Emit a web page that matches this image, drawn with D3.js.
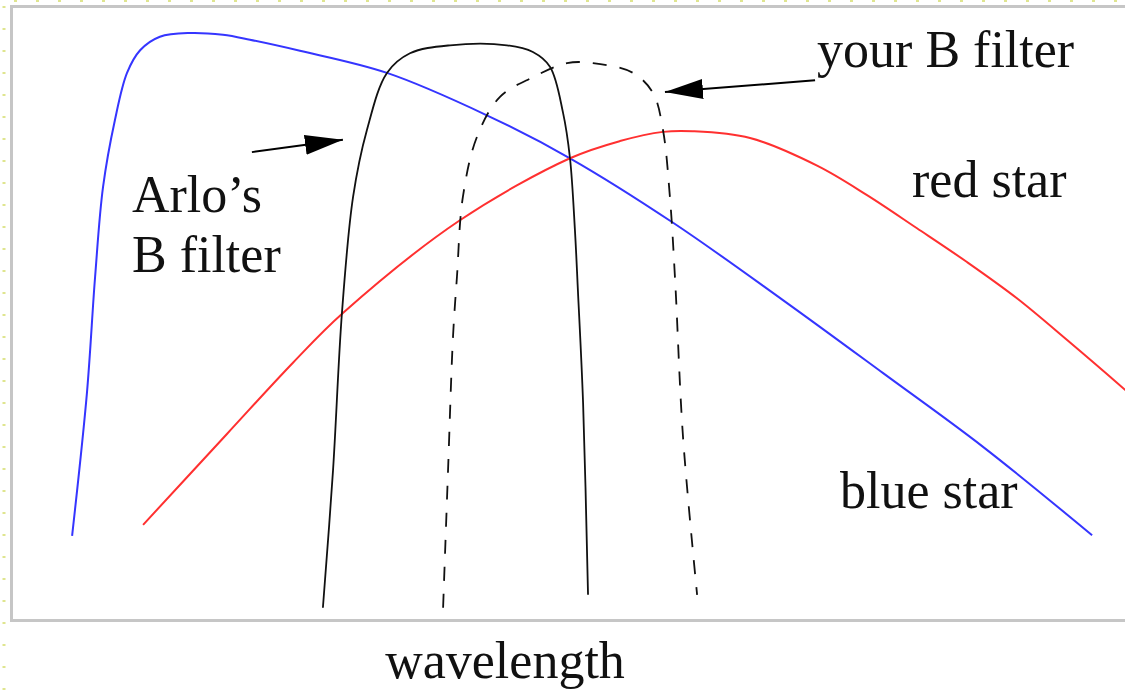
<!DOCTYPE html>
<html>
<head>
<meta charset="utf-8">
<script src="https://cdn.jsdelivr.net/npm/d3@7"></script>
<style>
  body { margin: 0; background: #fff; }
  svg { display: block; }
  .label { font-family: 'Liberation Serif', 'Times New Roman', serif; font-size: 52px; fill: #111; }
</style>
</head>
<body>
<svg id="chart" width="1125" height="690"></svg>
<script>
// wavelength (arbitrary nm) vs relative flux
const blueStar = [
  [324.3, 0.137], [330.3, 0.370], [333.6, 0.559], [336.8, 0.705], [341.6, 0.814],
  [346.5, 0.891], [351.8, 0.928], [359.8, 0.950], [372.0, 0.956], [385.3, 0.953],
  [396.2, 0.945], [416.4, 0.927], [451.6, 0.891], [492.0, 0.822], [525.6, 0.752],
  [567.3, 0.647], [611.7, 0.521], [652.2, 0.402], [692.6, 0.282], [736.7, 0.138]
];
const redStar = [
  [353.0, 0.155], [386.9, 0.303], [413.6, 0.419], [433.8, 0.500],
  [481.1, 0.651], [525.6, 0.752], [545.8, 0.780], [563.2, 0.795], [575.3, 0.796],
  [598.4, 0.785], [625.5, 0.740], [645.7, 0.692], [665.9, 0.638], [686.1, 0.583],
  [706.3, 0.524], [726.6, 0.456], [750.0, 0.375], [760.1, 0.339]
];
const arloFilter = [
  [425.7, 0.020], [429.8, 0.244], [433.4, 0.500], [437.9, 0.689], [443.5, 0.798],
  [451.6, 0.891], [460.9, 0.923], [477.1, 0.936], [500.1, 0.936], [510.6, 0.925],
  [517.5, 0.901], [522.8, 0.826], [525.6, 0.752], [527.6, 0.635], [528.8, 0.537],
  [530.9, 0.353], [532.9, 0.041]
];
const yourFilter = [
  [474.3, 0.020], [476.3, 0.244], [478.3, 0.461], [479.9, 0.559], [482.3, 0.689],
  [488.0, 0.787], [497.3, 0.852], [510.6, 0.884], [524.4, 0.907], [534.9, 0.907],
  [551.1, 0.891], [559.2, 0.858], [563.2, 0.798], [566.0, 0.689], [568.1, 0.554],
  [571.3, 0.298], [577.0, 0.041]
];

// annotation arrows: [from, to]
const arloArrow = [[397.0, 0.762], [433.8, 0.782]];
const yourArrow = [[624.7, 0.879], [564.0, 0.860]];

const labels = [
  {text: 'your B filter', x: 625.5, y: 0.901},
  {text: 'red star', x: 663.9, y: 0.689},
  {text: 'blue star', x: 634.8, y: 0.182},
  {text: 'Arlo\u2019s', x: 348.5, y: 0.664},
  {text: 'B filter', x: 348.5, y: 0.567}
];
const xTitle = 'wavelength';

const svg = d3.select('svg#chart');
const frame = {left: 12, right: 1125, top: 6, bottom: 620};

const x = d3.scaleLinear().domain([300, 750]).range([frame.left, frame.right]);
const y = d3.scaleLinear().domain([0, 1]).range([frame.bottom, frame.top]);

// pale dotted guide along the page edges
svg.append('line')
  .attr('x1', 4).attr('x2', 4).attr('y1', 6).attr('y2', 690)
  .attr('stroke', '#dfe58f').attr('stroke-width', 3)
  .attr('stroke-dasharray', '2,20');
svg.append('line')
  .attr('x1', 14).attr('x2', 1125).attr('y1', 1).attr('y2', 1)
  .attr('stroke', '#dfe58f').attr('stroke-width', 2)
  .attr('stroke-dasharray', '3,19');

svg.append('rect')
  .attr('x', frame.left - 0.5).attr('y', frame.top + 0.5)
  .attr('width', 1200).attr('height', frame.bottom - frame.top)
  .attr('fill', '#fff')
  .attr('stroke', '#c6c6c6').attr('stroke-width', 3);

svg.append('defs').append('clipPath').attr('id', 'plot')
  .append('rect')
  .attr('x', frame.left + 1).attr('y', frame.top + 2)
  .attr('width', 1200).attr('height', frame.bottom - frame.top - 3);

const line = d3.line()
  .x(d => x(d[0]))
  .y(d => y(d[1]))
  .curve(d3.curveCatmullRom.alpha(0.5));

const g = svg.append('g').attr('clip-path', 'url(#plot)');

g.append('path').datum(blueStar)
  .attr('d', line).attr('fill', 'none')
  .attr('stroke', '#3535ff').attr('stroke-width', 2);

g.append('path').datum(redStar)
  .attr('d', line).attr('fill', 'none')
  .attr('stroke', '#ff3030').attr('stroke-width', 2);

g.append('path').datum(arloFilter)
  .attr('d', line).attr('fill', 'none')
  .attr('stroke', '#111').attr('stroke-width', 1.8);

g.append('path').datum(yourFilter)
  .attr('d', line).attr('fill', 'none')
  .attr('stroke', '#111').attr('stroke-width', 1.8)
  .attr('stroke-dasharray', '14,13');

svg.append('defs').append('marker')
  .attr('id', 'head')
  .attr('viewBox', '0 0 38 20')
  .attr('refX', 38).attr('refY', 10)
  .attr('markerWidth', 38).attr('markerHeight', 20)
  .attr('markerUnits', 'userSpaceOnUse')
  .attr('orient', 'auto')
  .append('path')
    .attr('d', 'M0,0 L38,10 L0,20 Z')
    .attr('fill', '#000');

[arloArrow, yourArrow].forEach(a => {
  svg.append('line')
    .attr('x1', x(a[0][0])).attr('y1', y(a[0][1]))
    .attr('x2', x(a[1][0])).attr('y2', y(a[1][1]))
    .attr('stroke', '#000').attr('stroke-width', 2)
    .attr('marker-end', 'url(#head)');
});

svg.selectAll('text.label').data(labels)
  .enter().append('text')
    .attr('class', 'label')
    .attr('x', d => x(d.x))
    .attr('y', d => y(d.y))
    .text(d => d.text);

svg.append('text')
  .attr('class', 'label')
  .attr('x', (frame.left + 998) / 2)
  .attr('y', 678)
  .attr('text-anchor', 'middle')
  .text(xTitle);
</script>
</body>
</html>
